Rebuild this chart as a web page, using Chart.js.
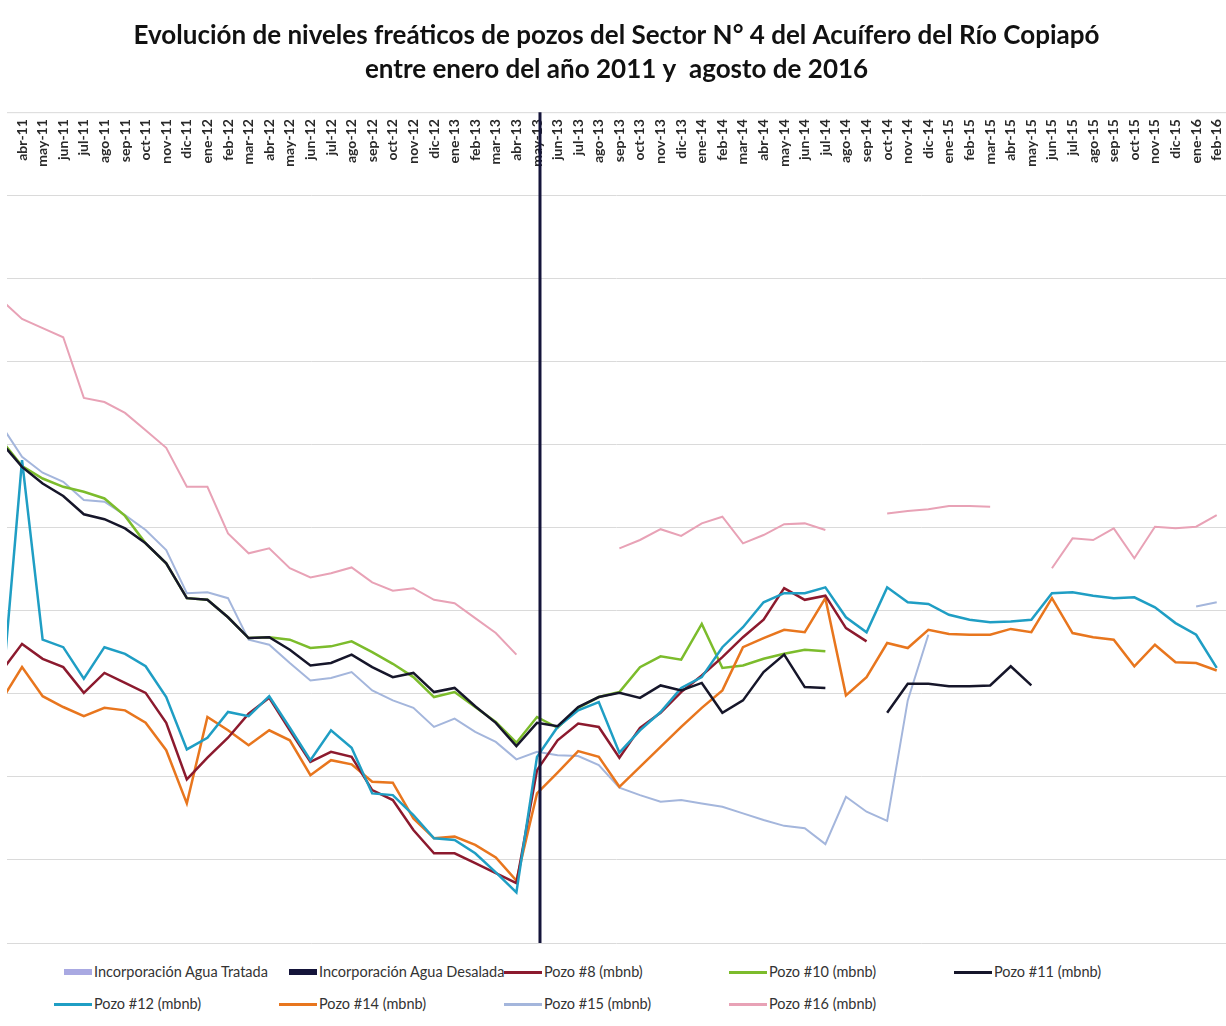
<!DOCTYPE html>
<html>
<head>
<meta charset="utf-8">
<script src="https://cdn.jsdelivr.net/npm/chart.js@4.4.0/dist/chart.umd.min.js"></script>
<style>
  html, body { margin: 0; padding: 0; background: #fff; }
  #wrap { position: relative; width: 1226px; height: 1026px; overflow: hidden; }
  #grafico { position: absolute; left: 0; top: 0; }
  .item { position: absolute; font-family: Lato, sans-serif; font-size: 14.5px; color: #333; white-space: nowrap; line-height: 16px; }
  .item i { position: absolute; display: block; }
</style>
</head>
<body>
<div id="wrap">
  <canvas id="grafico" width="1226" height="950"></canvas>
  <div id="leyenda"></div>
</div>
<script>
// meses (mar-11 queda recortado a la izquierda del grafico)
const meses = [
  'mar-11', 'abr-11', 'may-11', 'jun-11', 'jul-11', 'ago-11', 'sep-11', 'oct-11', 'nov-11', 'dic-11',
  'ene-12', 'feb-12', 'mar-12', 'abr-12', 'may-12', 'jun-12', 'jul-12', 'ago-12', 'sep-12', 'oct-12', 'nov-12', 'dic-12',
  'ene-13', 'feb-13', 'mar-13', 'abr-13', 'may-13', 'jun-13', 'jul-13', 'ago-13', 'sep-13', 'oct-13', 'nov-13', 'dic-13',
  'ene-14', 'feb-14', 'mar-14', 'abr-14', 'may-14', 'jun-14', 'jul-14', 'ago-14', 'sep-14', 'oct-14', 'nov-14', 'dic-14',
  'ene-15', 'feb-15', 'mar-15', 'abr-15', 'may-15', 'jun-15', 'jul-15', 'ago-15', 'sep-15', 'oct-15', 'nov-15', 'dic-15',
  'ene-16', 'feb-16'
];

// niveles (mbnb, escala relativa del grafico)
const pozo8 = [
  57.3, 54.0, 55.8, 56.8, 59.9, 57.5, 58.7, 59.9, 63.5, 70.3,
  67.7, 65.3, 62.4, 60.5, 64.4, 68.2, 67.0, 67.6, 71.6, 72.8, 76.4, 79.2,
  79.2, 80.4, 81.6, 82.8, 69.2, 65.6, 63.6, 64.0, 67.7, 64.1, 62.3, 59.8,
  57.8, 55.6, 53.2, 51.1, 47.3, 48.7, 48.2, 52.1, 53.7, null, null, null,
  null, null, null, null, null, null, null, null, null, null, null, null,
  null, null
];
const pozo10 = [
  29.5, 32.6, 34.1, 35.1, 35.7, 36.5, 38.6, 41.9, 44.3, 48.5,
  48.7, 50.8, 53.3, 53.2, 53.5, 54.5, 54.3, 53.7, 55.0, 56.4, 58.0, 60.4,
  59.8, 61.6, 63.4, 65.9, 62.8, 64.1, 61.7, 60.4, 59.8, 56.8, 55.5, 55.9,
  51.6, 56.9, 56.6, 55.8, 55.2, 54.7, 54.9, null, null, null, null, null,
  null, null, null, null, null, null, null, null, null, null, null, null,
  null, null
];
const pozo11 = [
  29.8, 32.7, 34.7, 36.2, 38.4, 39.0, 40.1, 41.9, 44.3, 48.5,
  48.7, 50.8, 53.3, 53.2, 54.7, 56.6, 56.3, 55.3, 56.8, 58.0, 57.5, 59.8,
  59.3, 61.5, 63.5, 66.3, 63.5, 63.9, 61.6, 60.4, 59.9, 60.5, 59.0, 59.6,
  58.7, 62.3, 60.8, 57.4, 55.3, 59.2, 59.3, null, null, 62.3, 58.8, 58.8,
  59.1, 59.1, 59.0, 56.7, 59.0, null, null, null, null, null, null, null,
  null, null
];
const pozo12 = [
  60.8, 31.9, 53.5, 54.4, 58.2, 54.4, 55.2, 56.7, 60.4, 66.7,
  65.3, 62.2, 62.7, 60.3, 64.1, 68.0, 64.4, 66.5, 72.0, 72.2, 74.6, 77.4,
  77.6, 79.2, 81.5, 83.9, 67.6, 64.0, 62.0, 61.0, 67.1, 64.4, 62.2, 59.3,
  58.0, 54.4, 52.0, 49.0, 47.9, 47.9, 47.2, 50.8, 52.6, 47.2, 49.0, 49.2,
  50.5, 51.1, 51.4, 51.3, 51.1, 47.9, 47.8, 48.2, 48.5, 48.4, 49.6, 51.5,
  52.9, 56.9
];
const pozo14 = [
  60.8, 56.8, 60.3, 61.6, 62.7, 61.7, 62.0, 63.5, 66.8, 73.2,
  62.8, 64.4, 66.2, 64.4, 65.6, 69.8, 68.0, 68.5, 70.6, 70.7, 75.0, 77.4,
  77.2, 78.2, 79.7, 82.5, 72.0, 69.5, 66.9, 67.6, 71.2, 68.8, 66.4, 64.0,
  61.7, 59.6, 54.4, 53.3, 52.3, 52.6, 48.5, 60.2, 58.0, 53.9, 54.5, 52.3,
  52.8, 52.9, 52.9, 52.2, 52.6, 48.5, 52.7, 53.2, 53.5, 56.7, 54.1, 56.2,
  56.3, 57.2
];
const pozo15 = [
  27.7, 31.5, 33.4, 34.5, 36.7, 36.9, 38.5, 40.3, 42.7, 47.9,
  47.8, 48.5, 53.5, 54.1, 56.3, 58.4, 58.1, 57.4, 59.6, 60.8, 61.7, 64.0,
  63.0, 64.6, 65.8, 67.9, 67.0, 67.4, 67.5, 68.6, 71.3, 72.2, 73.0, 72.8,
  73.2, 73.6, 74.4, 75.2, 75.9, 76.2, 78.1, 72.4, 74.2, 75.3, 60.8, 52.9,
  null, null, null, null, null, null, null, null, null, null, null, null,
  49.5, 49.0
];
const pozo16 = [
  12.6, 14.9, 16.0, 17.1, 24.4, 24.9, 26.2, 28.3, 30.4, 35.1,
  35.1, 40.7, 43.1, 42.5, 44.9, 46.0, 45.5, 44.8, 46.6, 47.6, 47.3, 48.7,
  49.1, 50.9, 52.7, 55.3, null, null, null, null, 42.5, 41.5, 40.2, 41.0,
  39.5, 38.7, 41.9, 40.9, 39.6, 39.5, 40.3, null, null, 38.3, 38.0, 37.8,
  37.4, 37.4, 37.5, null, null, 44.9, 41.3, 41.5, 40.1, 43.7, 39.9, 40.1,
  39.9, 38.5
];
// incorporacion de agua: la desalada se marca en may-13 (barra vertical)
const aguaTratada = meses.map(() => null);
const aguaDesalada = meses.map(m => (m === 'may-13' ? 90 : null));

const pts = arr => arr.map((v, i) => ({ x: i, y: v }));

const series = [
  { label: 'Incorporación Agua Tratada', data: aguaTratada, color: '#a9a9e2', barra: true, order: 9 },
  { label: 'Incorporación Agua Desalada', data: aguaDesalada, color: '#14143a', barra: true, order: 0 },
  { label: 'Pozo #8 (mbnb)', data: pozo8, color: '#8c1a2e', order: 3 },
  { label: 'Pozo #10 (mbnb)', data: pozo10, color: '#7cbc2c', order: 5 },
  { label: 'Pozo #11 (mbnb)', data: pozo11, color: '#16162a', order: 1 },
  { label: 'Pozo #12 (mbnb)', data: pozo12, color: '#1f9ec4', order: 2 },
  { label: 'Pozo #14 (mbnb)', data: pozo14, color: '#e8761e', order: 4 },
  { label: 'Pozo #15 (mbnb)', data: pozo15, color: '#a4b6dc', order: 6 },
  { label: 'Pozo #16 (mbnb)', data: pozo16, color: '#e8a2b6', order: 7 }
];

// etiquetas del eje (texto vertical alineado arriba) y linea de incorporacion
const ejePlugin = {
  id: 'eje',
  afterDatasetsDraw(chart) {
    const ctx = chart.ctx, xs = chart.scales.x, ys = chart.scales.y, area = chart.chartArea;
    ctx.save();
    ctx.strokeStyle = '#d9d9d9';
    ctx.lineWidth = 1;
    ctx.beginPath();
    ctx.moveTo(area.left, xs.top + 0.5);
    ctx.lineTo(area.right, xs.top + 0.5);
    ctx.stroke();

    ctx.font = 'bold 14px Lato';
    ctx.fillStyle = '#2a2a2a';
    ctx.textAlign = 'right';
    ctx.textBaseline = 'middle';
    meses.forEach((m, i) => {
      const x = xs.getPixelForValue(i);
      if (x < area.left) return;
      ctx.save();
      ctx.translate(x, xs.top + 7);
      ctx.rotate(-Math.PI / 2);
      ctx.fillText(m, 0, 0);
      ctx.restore();
    });

    ctx.strokeStyle = series[1].color;
    ctx.lineWidth = 3;
    aguaDesalada.forEach((v, i) => {
      if (v == null) return;
      const x = xs.getPixelForValue(i) + 3;
      ctx.beginPath();
      ctx.moveTo(x, xs.top);
      ctx.lineTo(x, ys.getPixelForValue(v));
      ctx.stroke();
    });
    ctx.restore();
  }
};

const chart = new Chart(document.getElementById('grafico'), {
  type: 'line',
  data: {
    datasets: series.map(s => ({
      label: s.label,
      data: pts(s.data),
      borderColor: s.color,
      backgroundColor: s.color,
      borderWidth: s.label === 'Pozo #16 (mbnb)' || s.label === 'Pozo #15 (mbnb)' ? 2 : 2.5,
      pointRadius: 0,
      tension: 0,
      showLine: !s.barra,
      order: s.order
    }))
  },
  options: {
    responsive: false,
    animation: false,
    layout: { padding: { left: 7, right: 0, top: 0, bottom: 7 } },
    plugins: {
      legend: { display: false },
      tooltip: { enabled: false },
      title: {
        display: true,
        text: [
          'Evolución de niveles freáticos de pozos del Sector N° 4 del Acuífero del Río Copiapó',
          'entre enero del año 2011 y  agosto de 2016'
        ],
        color: '#111',
        font: { family: 'Lato', size: 26, weight: 'bold', lineHeight: 1.33 },
        padding: { top: 18, bottom: 25 }
      }
    },
    scales: {
      x: {
        type: 'linear',
        position: 'top',
        min: 0.27,
        max: 59.45,
        grid: { display: false },
        border: { display: false },
        ticks: { display: false },
        afterFit(scale) { scale.height = 83; }
      },
      y: {
        reverse: true,
        min: 0,
        max: 90,
        ticks: { display: false, stepSize: 10 },
        grid: { color: '#dadada', drawTicks: false },
        border: { display: false }
      }
    }
  },
  plugins: [ejePlugin]
});

// leyenda en dos filas, como en el original
const leyenda = document.getElementById('leyenda');
series.forEach((s, i) => {
  const fila = i < 5 ? 0 : 1;
  const col = i < 5 ? i : i - 5;
  const el = document.createElement('div');
  el.className = 'item';
  el.style.left = (94 + col * 225) + 'px';
  el.style.top = (fila === 0 ? 964 : 996) + 'px';
  el.textContent = s.label;
  const mk = document.createElement('i');
  const w = s.barra ? 28 : 38;
  const h = s.barra ? 6 : 3;
  mk.style.width = w + 'px';
  mk.style.height = h + 'px';
  mk.style.left = (-w - 2) + 'px';
  mk.style.top = (8 - h / 2) + 'px';
  mk.style.background = s.color;
  el.appendChild(mk);
  leyenda.appendChild(el);
});
</script>
</body>
</html>
